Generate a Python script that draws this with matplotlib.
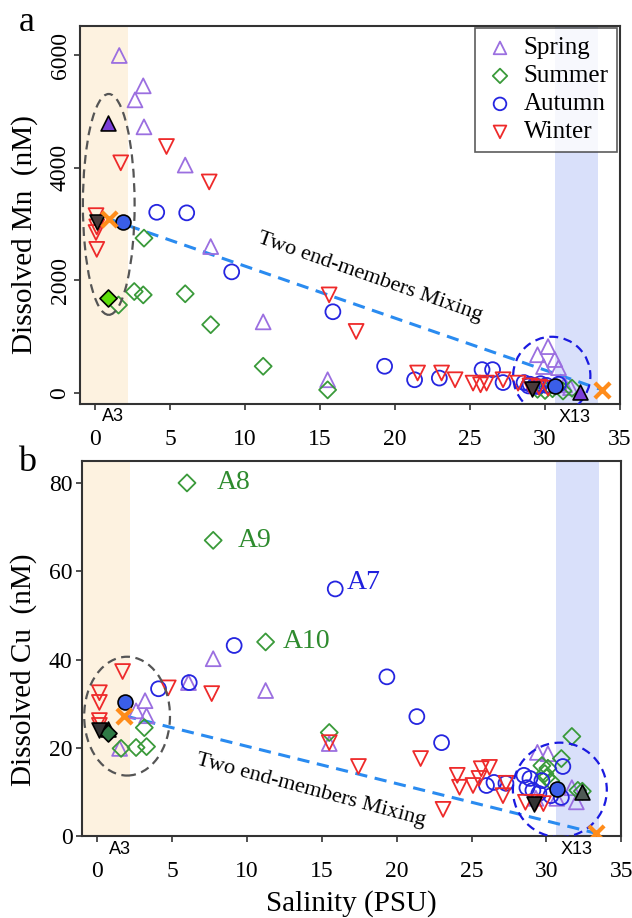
import numpy as np
import matplotlib
matplotlib.use("Agg")
import matplotlib.pyplot as plt
from matplotlib.patches import Ellipse
from matplotlib.transforms import blended_transform_factory

plt.rcParams['font.family'] = ['Liberation Serif', 'DejaVu Serif']

# ---------------- data: panel a (Mn, nM) ----------------
mn_spring_x = [1.6, 3.2, 2.65, 3.25, 6.0, 7.7, 11.2, 15.5, 30.2, 29.5, 30.65, 29.9, 30.9, 31.3, 31.7]
mn_spring_y = [6000, 5460, 5210, 4730, 4050, 2600, 1260, 230, 820, 675, 590, 465, 445, 140, 90]
mn_spring_fx = [0.85, 32.3]
mn_spring_fy = [4800, 20]

mn_summer_x = [3.25, 2.6, 3.2, 1.55, 6.0, 7.7, 11.2, 15.5, 29.5, 30.0, 30.5, 31.2, 31.8]
mn_summer_y = [2750, 1800, 1740, 1560, 1760, 1210, 470, 50, 60, 40, 70, 30, 80]
mn_summer_fx = [0.85]
mn_summer_fy = [1690]

mn_autumn_x = [4.1, 6.1, 9.1, 15.85, 19.3, 21.3, 22.95, 25.8, 26.5, 27.2, 28.6, 29.0, 29.3, 29.7, 30.1, 30.9, 28.9, 29.5]
mn_autumn_y = [3210, 3200, 2150, 1440, 470, 230, 260, 410, 410, 180, 180, 150, 120, 160, 130, 150, 120, 110]
mn_autumn_fx = [1.85, 30.65]
mn_autumn_fy = [3040, 110]

mn_winter_x = [0.05, 0.1, 0.05, 0.1, 1.7, 4.75, 7.6, 15.6, 17.4, 21.5, 23.1, 24.0, 25.2, 25.7, 26.1, 27.2, 28.2, 29.0, 29.6, 30.2]
mn_winter_y = [3150, 2950, 2850, 2550, 4090, 4380, 3750, 1740, 1090, 350, 350, 230, 170, 140, 170, 230, 170, 120, 100, 80]
mn_winter_fx = [0.1, 29.1]
mn_winter_fy = [3040, 60]

mn_end_x = [0.93, 33.8]
mn_end_y = [3090, 50]

# ---------------- data: panel b (Cu, nM) ----------------
cu_spring_x = [7.75, 11.25, 3.2, 2.6, 3.3, 1.5, 6.1, 15.5, 29.4, 30.1, 30.7, 32.0, 31.7, 29.3]
cu_spring_y = [40.2, 33, 30.7, 28.4, 27.3, 19.9, 34.8, 21, 19, 18.7, 8.6, 7.8, 11, 8.6]
cu_spring_fx = [0.75, 32.4]
cu_spring_fy = [24.3, 10]

cu_summer_x = [6.0, 7.75, 11.25, 3.15, 1.6, 2.6, 3.3, 15.5, 31.7, 31.0, 29.9, 30.1, 29.7, 30.0, 32.1, 32.4, 30.3]
cu_summer_y = [80, 67, 44, 24.6, 19.9, 20.1, 20.3, 23.5, 22.6, 17.6, 14.2, 15.4, 16, 13.3, 10.4, 10.2, 12.5]
cu_summer_fx = [0.75]
cu_summer_fy = [23.3]

cu_autumn_x = [4.1, 6.15, 9.15, 15.9, 19.35, 21.35, 23.0, 26.0, 26.5, 27.3, 28.5, 28.9, 28.7, 29.1, 29.5, 29.7, 31.1, 31.0, 30.3]
cu_autumn_y = [33.4, 34.8, 43.2, 56, 36.1, 27.1, 21.2, 11.5, 12.2, 12, 13.8, 13.1, 11, 10.4, 9.7, 12.6, 15.8, 8.8, 9.2]
cu_autumn_fx = [1.85, 30.7]
cu_autumn_fy = [30.5, 10.6]

cu_winter_x = [0.15, 0.15, 1.7, 0.15, 0.15, 4.75, 7.65, 15.5, 17.45, 21.6, 23.1, 24.05, 24.2, 25.1, 25.65, 26.2, 25.5, 27.1, 27.3, 28.6, 29.3, 29.8]
cu_winter_y = [32.5, 30.3, 37.3, 26.2, 25.1, 33.6, 32.3, 21.2, 15.8, 17.6, 6.1, 13.8, 11.1, 11.5, 15.3, 15.6, 13.1, 9.2, 12, 7.7, 7.7, 7.4]
cu_winter_fx = [0.15, 29.2]
cu_winter_fy = [24, 7.4]

cu_end_x = [1.8, 33.3]
cu_end_y = [27.3, 0.7]

# labelled stations in panel b
cu_labels = ["A8", "A9", "A10", "A7"]
cu_label_x = [8.0, 9.4, 12.4, 16.7]
cu_label_y = [80, 67, 44, 57.5]
cu_label_c = ["#2e8b2e", "#2e8b2e", "#2e8b2e", "#2020dd"]

c_spring = "#9b6fe0"
c_summer = "#3a9a3a"
c_autumn = "#2525e0"
c_winter = "#ee2a2a"

fig = plt.figure(figsize=(6.32, 9.18), dpi=100)
ax_a = fig.add_axes([0.127, 0.560, 0.854, 0.412])
ax_b = fig.add_axes([0.130, 0.089, 0.853, 0.409])

ms = 115
lw = 1.3


def draw_panel(ax, sp, su, au, wi, fills, end):
    ax.axvspan(-1.0, 2.2, color="#fdf2e0", zorder=0, lw=0)
    ax.axvspan(30.65, 33.5, color="#d9e0fa", zorder=0, lw=0)
    ax.scatter(sp[0], sp[1], s=ms, marker="^", facecolors="none", edgecolors=c_spring, linewidths=lw, zorder=3, label="Spring")
    ax.scatter(su[0], su[1], s=75, marker="D", facecolors="none", edgecolors=c_summer, linewidths=lw, zorder=3, label="Summer")
    ax.scatter(au[0], au[1], s=ms, marker="o", facecolors="none", edgecolors=c_autumn, linewidths=lw, zorder=3, label="Autumn")
    ax.scatter(wi[0], wi[1], s=ms, marker="v", facecolors="none", edgecolors=c_winter, linewidths=lw, zorder=3, label="Winter")
    for fx, fy, mk, fc, sz in fills:
        ax.scatter(fx, fy, s=sz, marker=mk, facecolors=fc, edgecolors="black", linewidths=1.2, zorder=5)
    ax.plot(end[0], end[1], ls=(0, (4, 2.5)), color="#2a8bf0", lw=2.2, zorder=2)
    ax.scatter(end[0], end[1], s=120, marker="x", color="#ff8c1a", linewidths=3, zorder=6)
    ax.set_xlim(-1, 35)
    ax.set_xticks(np.arange(0, 36, 5))
    for sp_ in ax.spines.values():
        sp_.set_color("#333333")
        sp_.set_linewidth(1.5)


draw_panel(ax_a,
           (mn_spring_x, mn_spring_y), (mn_summer_x, mn_summer_y),
           (mn_autumn_x, mn_autumn_y), (mn_winter_x, mn_winter_y),
           [(mn_spring_fx, mn_spring_fy, "^", "#7b3fd8", ms),
            (mn_summer_fx, mn_summer_fy, "D", "#5ede0a", 75),
            (mn_autumn_fx, mn_autumn_fy, "o", "#3a5ee8", ms),
            (mn_winter_fx, mn_winter_fy, "v", "#4a3a3a", ms)],
           (mn_end_x, mn_end_y))

draw_panel(ax_b,
           (cu_spring_x, cu_spring_y), (cu_summer_x, cu_summer_y),
           (cu_autumn_x, cu_autumn_y), (cu_winter_x, cu_winter_y),
           [(cu_spring_fx, cu_spring_fy, "^", "#4f5a55", ms),
            (cu_summer_fx, cu_summer_fy, "D", "#2f7a45", 75),
            (cu_autumn_fx, cu_autumn_fy, "o", "#3a5ee8", ms),
            (cu_winter_fx, cu_winter_fy, "v", "#333333", ms)],
           (cu_end_x, cu_end_y))

# panel a
ax_a.set_ylim(-200, 6530)
ax_a.set_yticks([0, 2000, 4000, 6000])
ax_a.set_yticklabels(["0", "2000", "4000", "6000"], rotation=90, va="center")
ax_a.set_ylabel("Dissolved Mn  (nM)", fontsize=21)
ax_a.yaxis.set_label_coords(-0.078, 0.447)
ax_a.add_patch(Ellipse((0.9, 3350), 3.45, 3930, fill=False, ls=(0, (4, 2.5)), lw=1.6, ec="#555555", zorder=4))
ax_a.add_patch(Ellipse((30.45, 300), 5.15, 1390, fill=False, ls=(0, (4, 2.5)), lw=1.6, ec="#1a1ae0", zorder=4))
ax_a.text(18.35, 2060, "Two end-members Mixing", rotation=-19.3, ha="center", va="center",
          fontsize=16, rotation_mode="anchor", zorder=7)
leg = ax_a.legend(loc="upper right", fontsize=18, frameon=True, fancybox=False,
                  borderaxespad=0.1, handletextpad=0.3, labelspacing=0.22,
                  borderpad=0.35, handlelength=1.3, markerscale=0.85)
leg.get_frame().set_edgecolor("#333333")
leg.get_frame().set_linewidth(1.2)
leg.set_zorder(10)

# panel b
ax_b.set_ylim(0, 85)
ax_b.set_yticks([0, 20, 40, 60, 80])
ax_b.set_ylabel("Dissolved Cu  (nM)", fontsize=21)
ax_b.yaxis.set_label_coords(-0.084, 0.443)
ax_b.set_xlabel("Salinity (PSU)", fontsize=21)
ax_b.xaxis.set_label_coords(0.5, -0.142)
ax_b.add_patch(Ellipse((2.0, 27.2), 5.73, 26.9, fill=False, ls=(0, (4, 2.5)), lw=1.6, ec="#555555", zorder=4))
ax_b.add_patch(Ellipse((30.9, 10.5), 6.27, 21.4, fill=False, ls=(0, (4, 2.5)), lw=1.6, ec="#1a1ae0", zorder=4))
ax_b.text(14.3, 10.4, "Two end-members Mixing", rotation=-15, ha="center", va="center",
          fontsize=16, rotation_mode="anchor", zorder=7)
for lab, lx, ly, lc in zip(cu_labels, cu_label_x, cu_label_y, cu_label_c):
    ax_b.text(lx, ly, lab, color=lc, fontsize=20, ha="left", va="center", zorder=7)

# ticks (after all tick-setting calls)
for ax in (ax_a, ax_b):
    ax.tick_params(direction="out", length=4, width=1.2, labelsize=17, color="#333333")
    ax.tick_params(axis="x", pad=14)
    ax.tick_params(axis="y", pad=3)

# station markers below the x axis
for ax, a3x, x13x in [(ax_a, 1.2, 32.0), (ax_b, 1.5, 32.0)]:
    tr = blended_transform_factory(ax.transData, ax.transAxes)
    ax.text(a3x, -0.034, "A3", transform=tr, ha="center", va="center", fontsize=13,
            family="Liberation Sans", clip_on=False)
    ax.text(x13x, -0.036, "X13", transform=tr, ha="center", va="center", fontsize=13,
            family="Liberation Sans", clip_on=False)

fig.text(0.043, 0.976, "a", fontsize=26, ha="center", va="center")
fig.text(0.043, 0.496, "b", fontsize=26, ha="center", va="center")

fig.savefig("out.png", dpi=100)
